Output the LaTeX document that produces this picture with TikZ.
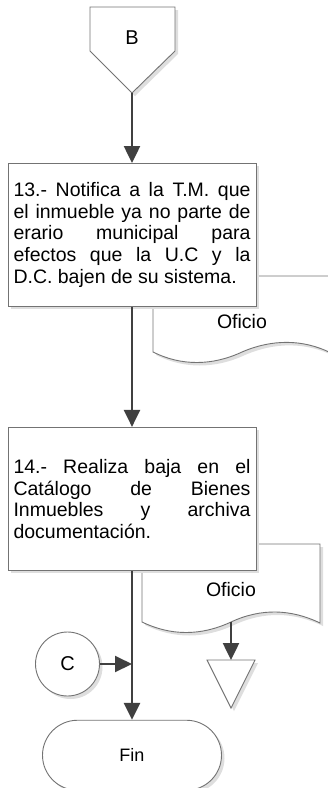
\documentclass[tikz,border=0pt]{standalone}
\usepackage{fontspec}
\setmainfont{Liberation Sans}
\usetikzlibrary{arrows.meta,positioning,shadows,backgrounds}
\tolerance=10000
\hbadness=10000

\begin{document}
\frenchspacing
\begin{tikzpicture}[
        x=1pt, y=1pt,
        font=\fontsize{19.5}{21.6}\selectfont,
        node distance=70pt,
        >=Triangle,
        sombra/.style={drop shadow={shadow xshift=3pt, shadow yshift=-3pt, fill=black!13, opacity=1}},
        figura/.style={draw=black!55, fill=white, sombra, line width=0.9pt},
        paso/.style={figura, align=justify, text width=237pt, minimum height=143pt, inner sep=5.5pt},
        conector/.style={figura, circle, minimum size=64pt, inner sep=0pt, font=\fontsize{20}{24}\selectfont},
        terminal/.style={figura, rounded corners=35pt, minimum width=179pt, minimum height=70pt, font=\fontsize{18}{22}\selectfont},
        link/.style={draw=black!75, line width=2.5pt, -{Triangle[length=17pt,width=16pt]}},
        linkfino/.style={draw=black!75, line width=2pt, -{Triangle[length=17pt,width=16pt]}}
    ]
    \useasboundingbox (0,0) rectangle (328,-788);

    % conector fuera de pagina B
    \draw[figura] (90,-7) -- (175,-7) -- (175,-51) -- (132,-93) -- (90,-51) -- cycle;
    \node[font=\fontsize{20}{24}\selectfont] (letraB) at (132,-37.5) {B};
    \coordinate (puntaB) at (132,-93);

    \node[paso, below=70pt of puntaB] (paso13) {13.- Notifica a la T.M. que\linebreak el inmueble ya no parte de\linebreak erario municipal para\linebreak efectos que la U.C y la\linebreak D.C. bajen de su sistema.};
    \node[paso, below=120pt of paso13] (paso14) {14.- Realiza baja en el\linebreak Catálogo de Bienes\linebreak Inmuebles y archiva\linebreak documentación.};
    \node[terminal, below=149pt of paso14] (fin) {Fin};
    \node[conector] (conC) at (67.5,-664) {C};
    \coordinate (unionC) at (paso14.south |- conC);

    % documentos (detras de los pasos)
    \begin{scope}[on background layer]
        \draw[figura] (153,-276) -- (331,-276) -- (331,-353) .. controls (303,-339) and (272,-339) .. (242,-352) .. controls (212,-366) and (181,-366) .. (153,-352) -- cycle;
        \draw[figura] (142,-544) -- (320,-544) -- (320,-623) .. controls (291,-609) and (261,-608) .. (231,-622) .. controls (201,-636) and (171,-636) .. (142,-622) -- cycle;
    \end{scope}
    \node (oficio1) at (242,-322) {Oficio};
    \node (oficio2) at (231,-590) {Oficio};
    \coordinate (pieOficio2) at (231,-622);

    % archivo
    \draw[figura] (207,-660) -- (255,-660) -- (231,-708) -- cycle;
    \coordinate (archivo) at (231,-660);

    \draw[link] (puntaB) -- (paso13);
    \draw[link] (paso13) -- (paso14);
    \draw[link] (paso14) -- (fin);
    \draw[linkfino] (conC) -- (unionC);
    \draw[link] (pieOficio2) -- (archivo);
\end{tikzpicture}
\end{document}
